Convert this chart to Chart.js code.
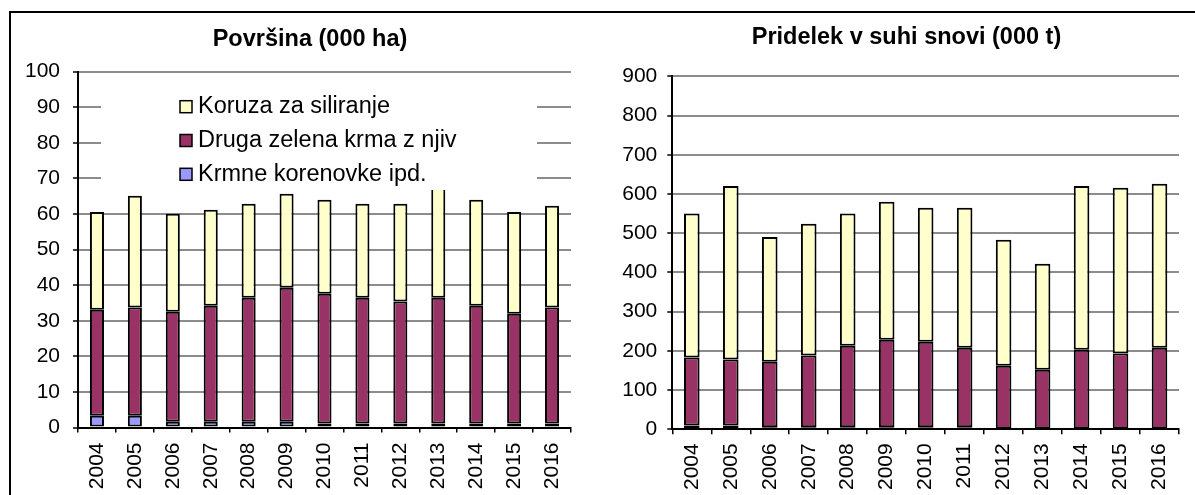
<!DOCTYPE html>
<html lang="sl">
<head>
  <meta charset="UTF-8">
  <title>Površina in pridelek</title>
  <script src="https://cdn.jsdelivr.net/npm/chart.js"></script>
  <style>
    html, body { margin: 0; padding: 0; background: #fff; }
    body { width: 1195px; height: 495px; position: relative; overflow: hidden; }
    .frame { position: absolute; left: 9px; top: 11px; width: 1300px; height: 600px;
             border-left: 2px solid #000; border-top: 2px solid #000; }
    canvas { position: absolute; top: 0; }
    #povrsina { left: 0; }
    #pridelek { left: 600px; }
  </style>
</head>
<body>
  <div class="frame"></div>
  <canvas id="povrsina" width="600" height="495"></canvas>
  <canvas id="pridelek" width="595" height="495"></canvas>

  <script>
  // leta
  const years = ['2004','2005','2006','2007','2008','2009','2010','2011','2012','2013','2014','2015','2016'];
  const seriesNames = ['Krmne korenovke ipd.', 'Druga zelena krma z njiv', 'Koruza za siliranje'];

  // Površina (000 ha)
  const areaKorenovke = [3.3, 3.3, 1.6, 1.6, 1.6, 1.6, 1.1, 1.1, 1.1, 1.1, 1.1, 1.1, 1.1];
  const areaDruga     = [29.8, 30.4, 30.9, 32.6, 34.9, 37.7, 36.5, 35.4, 34.3, 35.4, 33.1, 30.9, 32.6];
  const areaKoruza    = [27.5, 31.4, 27.6, 27.0, 26.4, 26.4, 26.4, 26.4, 27.5, 31.0, 29.8, 28.6, 28.6];
  const areaTicks = { min: 0, max: 100, step: 10 };

  // Pridelek v suhi snovi (000 t)
  const yieldKorenovke = [10, 10, 5, 5, 5, 5, 5, 5, 1, 1, 1, 1, 1];
  const yieldDruga     = [173, 168, 167, 183, 208, 223, 218, 203, 161, 151, 202, 192, 207];
  const yieldKoruza    = [367, 442, 318, 336, 337, 352, 342, 357, 321, 270, 417, 423, 418];
  const yieldTicks = { min: 0, max: 900, step: 100 };

  const colors = ['#9999FF', '#993366', '#FFFFCC'];
  const FONT = "'Liberation Sans', Arial, sans-serif";

  Chart.defaults.font.family = FONT;
  Chart.defaults.color = '#000';
  Chart.defaults.animation = false;

  function makeDatasets(values) {
    return values.map((v, i) => ({
      label: seriesNames[i],
      data: v,
      backgroundColor: colors[i],
      borderColor: '#000',
      borderWidth: 2,
      borderSkipped: false
    }));
  }

  // naslov na točno mesto
  const panelTitle = {
    id: 'panelTitle',
    afterDraw(chart, args, opts) {
      const ctx = chart.ctx;
      ctx.save();
      ctx.font = 'bold 23.5px ' + FONT;
      ctx.fillStyle = '#000';
      ctx.textAlign = 'center';
      ctx.textBaseline = 'middle';
      ctx.fillText(opts.text, opts.x, opts.y);
      ctx.restore();
    }
  };

  // legenda z belo podlago (prekrije mrežo in vrh stolpca 2013)
  const boxLegend = {
    id: 'boxLegend',
    afterDatasetsDraw(chart) {
      const ctx = chart.ctx;
      ctx.save();
      ctx.fillStyle = '#fff';
      ctx.fillRect(101, 91, 436, 99);
      const rows = [106.7, 140.5, 174.3];
      const order = [2, 1, 0];
      ctx.font = '23.5px ' + FONT;
      ctx.textBaseline = 'middle';
      ctx.textAlign = 'left';
      order.forEach((di, r) => {
        const ds = chart.data.datasets[di];
        ctx.fillStyle = ds.backgroundColor;
        ctx.fillRect(180, rows[r] - 6, 12, 12);
        ctx.strokeStyle = '#000';
        ctx.lineWidth = 1.5;
        ctx.strokeRect(180, rows[r] - 6, 12, 12);
        ctx.fillStyle = '#000';
        ctx.fillText(ds.label, 198, rows[r]);
      });
      ctx.restore();
    }
  };

  function makeChart(id, title, values, ticks, cfg) {
    return new Chart(document.getElementById(id).getContext('2d'), {
      type: 'bar',
      data: { labels: years, datasets: makeDatasets(values) },
      options: {
        responsive: false,
        devicePixelRatio: 1,
        layout: { padding: { left: 0, right: cfg.padR, top: cfg.top, bottom: 0 } },
        datasets: { bar: { categoryPercentage: 1, barPercentage: cfg.barPct } },
        plugins: {
          legend: { display: false },
          tooltip: { enabled: false },
          title: { display: false },
          panelTitle: { text: title, x: cfg.titleX, y: cfg.titleY }
        },
        scales: {
          x: {
            stacked: true,
            grid: { drawOnChartArea: false, offset: true, tickLength: 5, color: '#000', lineWidth: 1.5 },
            border: { color: '#000', width: 2 },
            ticks: { minRotation: 90, maxRotation: 90, padding: cfg.xPad, font: { size: 21 } },
            afterFit: s => { s.height = cfg.xHeight; }
          },
          y: {
            stacked: true,
            min: ticks.min,
            max: ticks.max,
            ticks: { stepSize: ticks.step, padding: cfg.yPad, font: { size: 21 } },
            grid: { color: '#8c8c8c', lineWidth: 2, tickLength: 5, tickColor: '#000', tickWidth: 1.5 },
            border: { color: '#000', width: 2 },
            afterFit: s => { s.width = cfg.yWidth; }
          }
        }
      },
      plugins: [panelTitle].concat(cfg.plugins || [])
    });
  }

  makeChart('povrsina', 'Površina (000 ha)', [areaKorenovke, areaDruga, areaKoruza], areaTicks, {
    padR: 29, top: 71.7, yWidth: 78, xHeight: 67.5, titleX: 310, titleY: 39.5,
    barPct: 0.37, xPad: 10, yPad: 13, plugins: [boxLegend]
  });

  makeChart('pridelek', 'Pridelek v suhi snovi (000 t)', [yieldKorenovke, yieldDruga, yieldKoruza], yieldTicks, {
    padR: 16, top: 76.3, yWidth: 72.3, xHeight: 65.7, titleX: 306.5, titleY: 38,
    barPct: 0.4, xPad: 9, yPad: 10
  });
  </script>
</body>
</html>
